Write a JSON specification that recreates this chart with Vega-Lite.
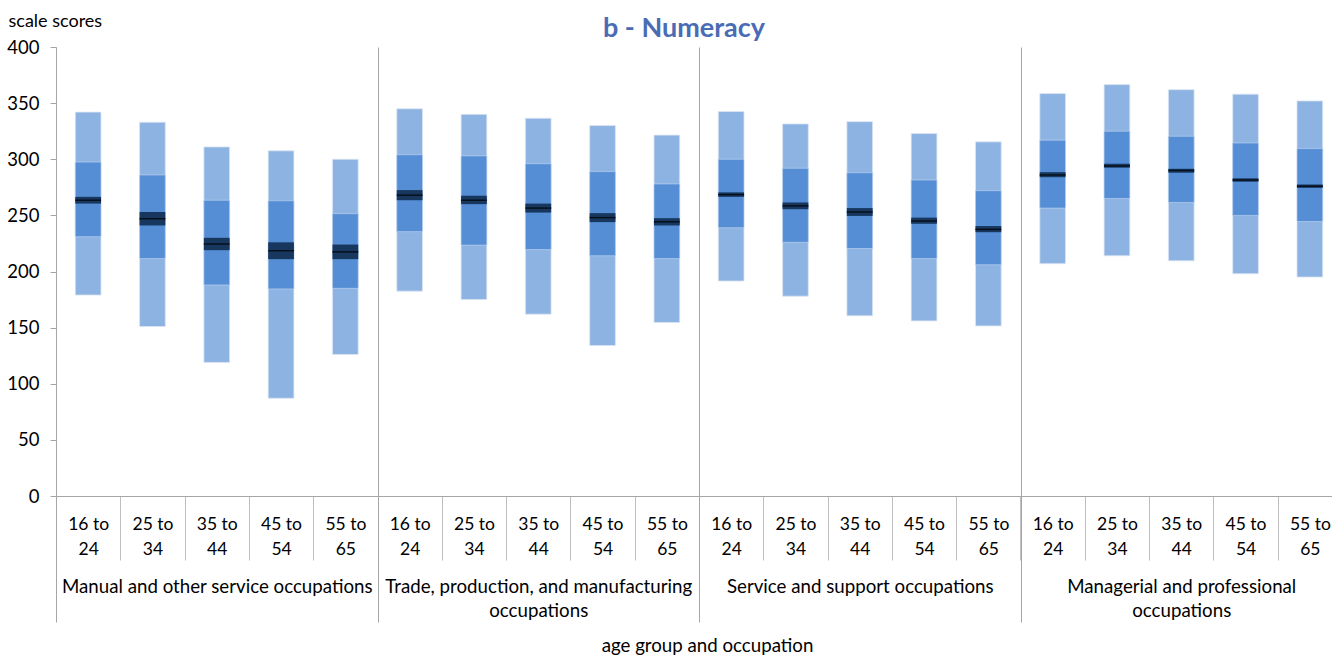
{
  "$schema": "https://vega.github.io/schema/vega-lite/v6.json",
  "autosize": "none",
  "width": 1286,
  "height": 449,
  "padding": {"left": 56, "top": 47, "right": 0, "bottom": 160},
  "background": "white",
  "config": {
    "font": "Lato",
    "view": {"stroke": null},
    "axis": {"labelFont": "Lato", "titleFont": "Lato", "labelColor": "#000000", "titleColor": "#000000"}
  },
  "title": {"text": "b - Numeracy", "fontSize": 27, "fontWeight": "bold", "color": "#4a6cb5", "anchor": "middle", "dx": -15, "dy": 35, "font": "Lato"},
  "data": {
    "values": [
      {"occupation": "Manual and other service occupations", "age": "16 to 24", "p5": 179, "p25": 231, "p75": 297.5, "p95": 342, "lo": 260.5, "hi": 266.5, "mean": 263.5},
      {"occupation": "Manual and other service occupations", "age": "25 to 34", "p5": 151, "p25": 211.5, "p75": 286, "p95": 333, "lo": 241, "hi": 253, "mean": 247},
      {"occupation": "Manual and other service occupations", "age": "35 to 44", "p5": 119, "p25": 188, "p75": 263.5, "p95": 311, "lo": 219, "hi": 230, "mean": 224.5},
      {"occupation": "Manual and other service occupations", "age": "45 to 54", "p5": 87, "p25": 184.5, "p75": 263, "p95": 307.5, "lo": 211, "hi": 226, "mean": 218.5},
      {"occupation": "Manual and other service occupations", "age": "55 to 65", "p5": 126, "p25": 185, "p75": 251.5, "p95": 300, "lo": 211, "hi": 224, "mean": 217.5},
      {"occupation": "Trade, production, and manufacturing occupations", "age": "16 to 24", "p5": 182.5, "p25": 235.5, "p75": 304, "p95": 345, "lo": 263.5, "hi": 272.5, "mean": 268},
      {"occupation": "Trade, production, and manufacturing occupations", "age": "25 to 34", "p5": 175, "p25": 223.5, "p75": 303, "p95": 340, "lo": 260, "hi": 267.5, "mean": 263.5},
      {"occupation": "Trade, production, and manufacturing occupations", "age": "35 to 44", "p5": 162, "p25": 219.5, "p75": 296, "p95": 336.5, "lo": 252.5, "hi": 260.5, "mean": 256.5},
      {"occupation": "Trade, production, and manufacturing occupations", "age": "45 to 54", "p5": 134, "p25": 214, "p75": 289, "p95": 330, "lo": 244, "hi": 252, "mean": 248},
      {"occupation": "Trade, production, and manufacturing occupations", "age": "55 to 65", "p5": 154.5, "p25": 211.5, "p75": 278, "p95": 321.5, "lo": 241, "hi": 247.5, "mean": 244.3},
      {"occupation": "Service and support occupations", "age": "16 to 24", "p5": 191.5, "p25": 239, "p75": 300, "p95": 342.5, "lo": 266.5, "hi": 270.5, "mean": 268.5},
      {"occupation": "Service and support occupations", "age": "25 to 34", "p5": 178, "p25": 226, "p75": 292, "p95": 331.5, "lo": 255.5, "hi": 261.5, "mean": 258.5},
      {"occupation": "Service and support occupations", "age": "35 to 44", "p5": 160.5, "p25": 220.5, "p75": 288, "p95": 333.5, "lo": 249.5, "hi": 256.5, "mean": 253},
      {"occupation": "Service and support occupations", "age": "45 to 54", "p5": 156, "p25": 211.5, "p75": 281.5, "p95": 323, "lo": 242.5, "hi": 248, "mean": 245},
      {"occupation": "Service and support occupations", "age": "55 to 65", "p5": 151.5, "p25": 206, "p75": 272, "p95": 315.5, "lo": 235, "hi": 240.5, "mean": 237.5},
      {"occupation": "Managerial and professional occupations", "age": "16 to 24", "p5": 207, "p25": 256.5, "p75": 317, "p95": 358.5, "lo": 284, "hi": 288.5, "mean": 286},
      {"occupation": "Managerial and professional occupations", "age": "25 to 34", "p5": 214, "p25": 265, "p75": 325, "p95": 366.5, "lo": 292.5, "hi": 296, "mean": 294},
      {"occupation": "Managerial and professional occupations", "age": "35 to 44", "p5": 209.5, "p25": 261.5, "p75": 320.5, "p95": 362, "lo": 288, "hi": 291.5, "mean": 290},
      {"occupation": "Managerial and professional occupations", "age": "45 to 54", "p5": 198, "p25": 250, "p75": 314.5, "p95": 358, "lo": 280, "hi": 283, "mean": 281.5},
      {"occupation": "Managerial and professional occupations", "age": "55 to 65", "p5": 195, "p25": 244.5, "p75": 309.5, "p95": 352, "lo": 274.5, "hi": 277.5, "mean": 276}
    ]
  },
  "transform": [{"calculate": "datum.occupation + '|' + datum.age", "as": "key"}],
  "layer": [
    {
      "encoding": {
        "x": {
          "field": "key", "type": "nominal", "sort": null,
          "scale": {"type": "band", "paddingInner": 0, "paddingOuter": 0},
          "axis": {
            "title": null, "orient": "bottom", "offset": 0, "tickBand": "extent", "tickSize": 64, "tickColor": "#bfbfbf",
            "domainColor": "#a6a6a6", "labelAngle": 0, "labelFontSize": 17.5, "labelPadding": -45, "labelLineHeight": 25,
            "labelExpr": "isString(datum.value) && length(datum.value) > 8 ? [slice(datum.value, -8, -3), slice(datum.value, -2)] : ''"
          }
        }
      },
      "layer": [
        {
          "mark": {"type": "bar", "width": {"band": 0.4}, "color": "#8db3e2", "stroke": "#dce6f2", "strokeWidth": 0.8},
          "encoding": {
            "y": {
              "field": "p5", "type": "quantitative", "scale": {"domain": [0, 400], "nice": false},
              "axis": {
                "title": "scale scores", "titleAngle": 0, "titleAlign": "left", "titleBaseline": "middle", "titleX": -48, "titleY": -26,
                "titleFontSize": 18, "titleFontWeight": "normal", "values": [0, 50, 100, 150, 200, 250, 300, 350, 400],
                "labelFontSize": 18.5, "tickSize": 6, "tickColor": "#a6a6a6", "domainColor": "#a6a6a6", "grid": false, "labelPadding": 11
              }
            },
            "y2": {"field": "p95"}
          }
        },
        {
          "mark": {"type": "bar", "width": {"band": 0.4}, "color": "#558ed5", "stroke": "#c6d9f1", "strokeWidth": 0.6},
          "encoding": {"y": {"field": "p25", "type": "quantitative"}, "y2": {"field": "p75"}}
        },
        {
          "mark": {"type": "bar", "width": {"band": 0.4}, "color": "#17375e"},
          "encoding": {"y": {"field": "lo", "type": "quantitative"}, "y2": {"field": "hi"}}
        },
        {
          "mark": {"type": "tick", "color": "#000000", "size": 26, "thickness": 1.5},
          "encoding": {"y": {"field": "mean", "type": "quantitative"}}
        }
      ]
    },
    {
      "mark": {"type": "point", "opacity": 0},
      "encoding": {
        "x": {
          "field": "occupation", "type": "nominal", "sort": null,
          "scale": {"type": "band", "paddingInner": 0, "paddingOuter": 0},
          "axis": {
            "title": "age group and occupation", "orient": "bottom", "offset": 0, "tickBand": "extent", "tickSize": 126,
            "tickColor": "#a6a6a6", "grid": true, "gridColor": "#a6a6a6", "domain": false, "labelAngle": 0,
            "labelFontSize": 18.7, "labelPadding": -45, "labelLineHeight": 24, "labelLimit": 500,
            "labelExpr": "datum.value == 'Trade, production, and manufacturing occupations' ? ['Trade, production, and manufacturing', 'occupations'] : datum.value == 'Managerial and professional occupations' ? ['Managerial and professional', 'occupations'] : datum.value",
            "titleFontSize": 18.7, "titleFontWeight": "normal", "titlePadding": 14, "titleX": 651
          }
        },
        "y": {"field": "mean", "type": "quantitative"}
      }
    }
  ],
  "resolve": {"scale": {"x": "independent"}, "axis": {"x": "independent"}}
}
